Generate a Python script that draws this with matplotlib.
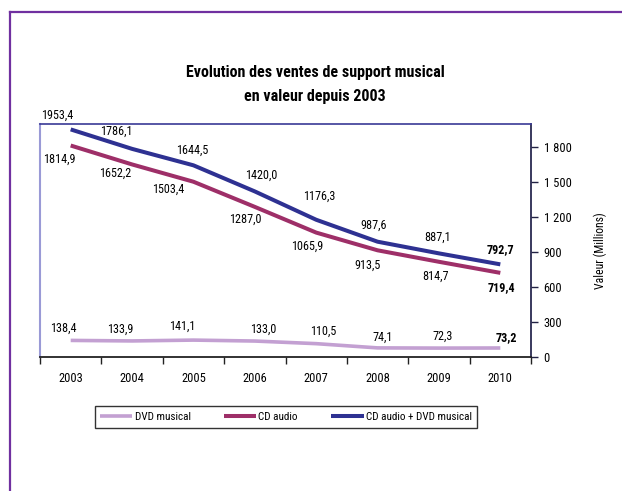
import matplotlib
matplotlib.use("Agg")
import matplotlib.pyplot as plt
from matplotlib import font_manager
from matplotlib.lines import Line2D
from matplotlib.ticker import FixedLocator, FuncFormatter

# ---- pick a narrow font if available ----
names = sorted({f.name for f in font_manager.fontManager.ttflist})
narrow = None
for cand in ["Liberation Sans Narrow", "DejaVu Sans Condensed", "Roboto Condensed", "Open Sans Condensed"]:
    if cand in names:
        narrow = cand
        break
if narrow is None:
    narrow = "Liberation Sans"
plt.rcParams['font.family'] = [narrow, 'DejaVu Sans']

# ---- data ----
years = ["2003", "2004", "2005", "2006", "2007", "2008", "2009", "2010"]
dvd = [138.4, 133.9, 141.1, 133.0, 110.5, 74.1, 72.3, 73.2]
cd = [1814.9, 1652.2, 1503.4, 1287.0, 1065.9, 913.5, 814.7, 719.4]
total = [1953.4, 1786.1, 1644.5, 1420.0, 1176.3, 987.6, 887.1, 792.7]
yticks = [0, 300, 600, 900, 1200, 1500, 1800]

# label offsets in pixels (layout)
off_total = [(-14, 14), (-16, 18), (-1, 15), (6, 16), (3, 23), (-4, 16), (-1, 16), (0, 15)]
off_cd = [(-11, -14), (-17, -9), (-25, -8), (-10, -12), (-9, -14), (-10, -15), (-3, -14), (1, -15)]
off_dvd = [(-7, 12), (-12, 12), (-11, 14), (8, 12), (7, 12), (5, 11), (4, 12), (6, 10)]

c_dvd = "#c3a0d2"
c_cd = "#9e2f68"
c_tot = "#2e3192"

W, H = 622, 491
fig = plt.figure(figsize=(W / 100, H / 100), dpi=100)
fig.patch.set_facecolor("white")

# outer purple frame (top + left)
fig.add_artist(Line2D([10 / W, 10 / W], [0, 1 - 12 / H], color="#7030a0", lw=1.6, transform=fig.transFigure))
fig.add_artist(Line2D([10 / W, 1], [1 - 12 / H, 1 - 12 / H], color="#7030a0", lw=1.6, transform=fig.transFigure))

x0, x1, ytop, ybot = 40, 531, 124, 356.5
ax = fig.add_axes([x0 / W, 1 - ybot / H, (x1 - x0) / W, (ybot - ytop) / H])
x = list(range(len(years)))
ax.plot(x, dvd, color=c_dvd, lw=2.6, solid_capstyle="butt", label="DVD musical")
ax.plot(x, cd, color=c_cd, lw=2.9, solid_capstyle="butt", label="CD audio")
ax.plot(x, total, color=c_tot, lw=2.9, solid_capstyle="butt", label="CD audio + DVD musical")

ax.set_xlim(-0.5, len(years) - 0.5)
ax.set_ylim(0, 2000)

def fmt(v):
    return f"{v:.1f}".replace(".", ",")

for series, offs in ((total, off_total), (cd, off_cd), (dvd, off_dvd)):
    n = len(series)
    for i, (v, o) in enumerate(zip(series, offs)):
        ax.annotate(fmt(v), (x[i], v), xytext=o, textcoords="offset pixels",
                    ha="center", va="center", fontsize=8.7,
                    fontweight="bold" if i == n - 1 else "normal")

# x axis: ticks at category boundaries, labels at centers
ax.xaxis.set_major_locator(FixedLocator([i - 0.5 for i in range(len(years) + 1)]))
ax.xaxis.set_major_formatter(FuncFormatter(lambda v, p: ""))
ax.xaxis.set_minor_locator(FixedLocator(x))
ax.set_xticklabels(years, minor=True)
ax.tick_params(axis="x", which="major", direction="out", length=5, width=1, color="#222222")
ax.tick_params(axis="x", which="minor", length=0, pad=11, labelsize=9)

# right y axis
ax.yaxis.tick_right()
ax.set_yticks(yticks)
ax.set_yticklabels([f"{v:,}".replace(",", " ") for v in yticks])
ax.tick_params(axis="y", direction="out", length=5, width=1, color="#222244", labelsize=9, pad=4)

for s, c, w in (("left", "#9a9ad6", 1.5), ("top", "#3a3a96", 1.2), ("right", "#2a2a50", 1.3), ("bottom", "#222222", 1.3)):
    ax.spines[s].set_color(c)
    ax.spines[s].set_linewidth(w)

fig.text(600 / W, 1 - 251 / H, "Valeur (Millions)", rotation=90, ha="center", va="center", fontsize=8.5)

fig.text(315 / W, 1 - 72 / H, "Evolution des ventes de support musical", ha="center", va="center",
         fontsize=11.5, fontweight="bold")
fig.text(315 / W, 1 - 97 / H, "en valeur depuis 2003", ha="center", va="center",
         fontsize=11.5, fontweight="bold")

handles, labels = ax.get_legend_handles_labels()
leg = fig.legend(handles, labels, loc="center", bbox_to_anchor=((95 + 477) / 2 / W, 1 - 417 / H),
                 ncol=3, fontsize=8, frameon=True, fancybox=False, edgecolor="black",
                 handlelength=2.9, handletextpad=0.2, columnspacing=3.0, borderpad=0.5)
leg.get_frame().set_linewidth(1.0)

fig.savefig("out.png", dpi=100, facecolor="white")
